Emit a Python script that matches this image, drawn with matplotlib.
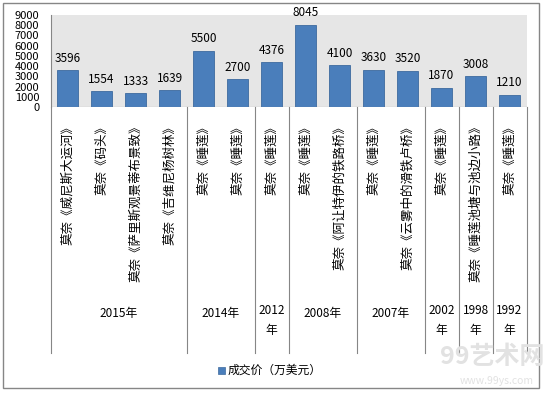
import matplotlib
matplotlib.use('Agg')
import matplotlib.pyplot as plt
from matplotlib.patches import Rectangle
from matplotlib.lines import Line2D
import matplotlib.transforms as mtransforms

plt.rcParams['font.family'] = ['Noto Sans CJK SC', 'DejaVu Sans']

# 数据
works = ['莫奈《威尼斯大运河》', '莫奈《码头》', '莫奈《萨里斯观景蒂布景致》', '莫奈《吉维尼杨树林》',
         '莫奈《睡莲》', '莫奈《睡莲》', '莫奈《睡莲》', '莫奈《睡莲》', '莫奈《阿让特伊的铁路桥》',
         '莫奈《睡莲》', '莫奈《云雾中的滑铁卢桥》', '莫奈《睡莲》', '莫奈《睡莲池塘与池边小路》',
         '莫奈《睡莲》']
prices = [3596, 1554, 1333, 1639, 5500, 2700, 4376, 8045, 4100, 3630, 3520, 1870, 3008, 1210]
years = ['2015年', '2014年', '2012\n年', '2008年', '2007年', '2002\n年', '1998\n年', '1992\n年']
group_sizes = [4, 2, 1, 2, 2, 1, 1, 1]

W, H = 545, 393
fig = plt.figure(figsize=(W / 100, H / 100), dpi=100)

def fy(py):
    return 1 - py / H

# 绘图区
x0, x1, y_top, y_zero = 50.5, 526.5, 15, 107
ax = fig.add_axes([x0 / W, fy(y_zero), (x1 - x0) / W, (y_zero - y_top) / H])
ax.set_facecolor('#e6e6e6')

xs = list(range(len(prices)))
ax.bar(xs, prices, width=0.6, color='#4a7ebb', edgecolor='#3d6a9e', linewidth=0.6, zorder=3)
for x, v in zip(xs, prices):
    ax.annotate(str(v), (x, v), xytext=(0, 4), textcoords='offset points',
                ha='center', va='bottom', fontsize=8.5, color='#000000')

ax.set_xlim(-0.5, len(prices) - 0.5)
ax.set_ylim(0, 9000)
ax.set_yticks(range(0, 9001, 1000))
ax.tick_params(axis='y', length=0, pad=8, labelsize=8)
ax.set_xticks([])
for s in ['top', 'right', 'bottom']:
    ax.spines[s].set_visible(False)
ax.spines['left'].set_color('#868686')
ax.spines['left'].set_linewidth(0.8)
ax.axhline(0, color='#868686', lw=0.8, zorder=4)

# 分类轴（作品 + 年份）
trans = mtransforms.blended_transform_factory(ax.transData, fig.transFigure)
y_tab_bottom = 353
for x, name in zip(xs, works):
    ax.text(x, fy(120), name, transform=trans, rotation=90, ha='center', va='top',
            fontsize=9, clip_on=False)

start = -0.5
fig.add_artist(Line2D([x0 / W, x0 / W], [fy(y_zero), fy(y_tab_bottom)],
                      color='#868686', lw=0.8, transform=fig.transFigure))
for label, n in zip(years, group_sizes):
    end = start + n
    mid = (start + end) / 2
    if '\n' in label:
        ax.text(mid, fy(304), label, transform=trans, ha='center', va='top',
                fontsize=8.5, linespacing=1.7, clip_on=False)
    else:
        ax.text(mid, fy(313), label, transform=trans, ha='center', va='center',
                fontsize=8.5, clip_on=False)
    ax.plot([end, end], [fy(y_zero), fy(y_tab_bottom)], transform=trans,
            color='#868686', lw=0.8, clip_on=False)
    start = end

# 图例
fig.add_artist(Rectangle((217.5 / W, fy(373.5)), 7 / W, 7 / H, transform=fig.transFigure,
                         facecolor='#4a7ebb', edgecolor='#3d6a9e', lw=0.5))
fig.text(228 / W, fy(370), '成交价（万美元）', ha='left', va='center', fontsize=8.5)

# 水印
fig.text(492 / W, fy(357), '99艺术网', ha='center', va='center', fontsize=18,
         fontweight='bold', color='#e2e2e2')
fig.text(497 / W, fy(381), 'www.99ys.com', ha='center', va='center', fontsize=7.5,
         color='#e2e2e2')

# 外框
fig.add_artist(Rectangle((2.5 / W, fy(387.5)), 536.5 / W, 385 / H, transform=fig.transFigure,
                         fill=False, edgecolor='#868686', lw=1.0))

fig.savefig('out.png', dpi=100)
